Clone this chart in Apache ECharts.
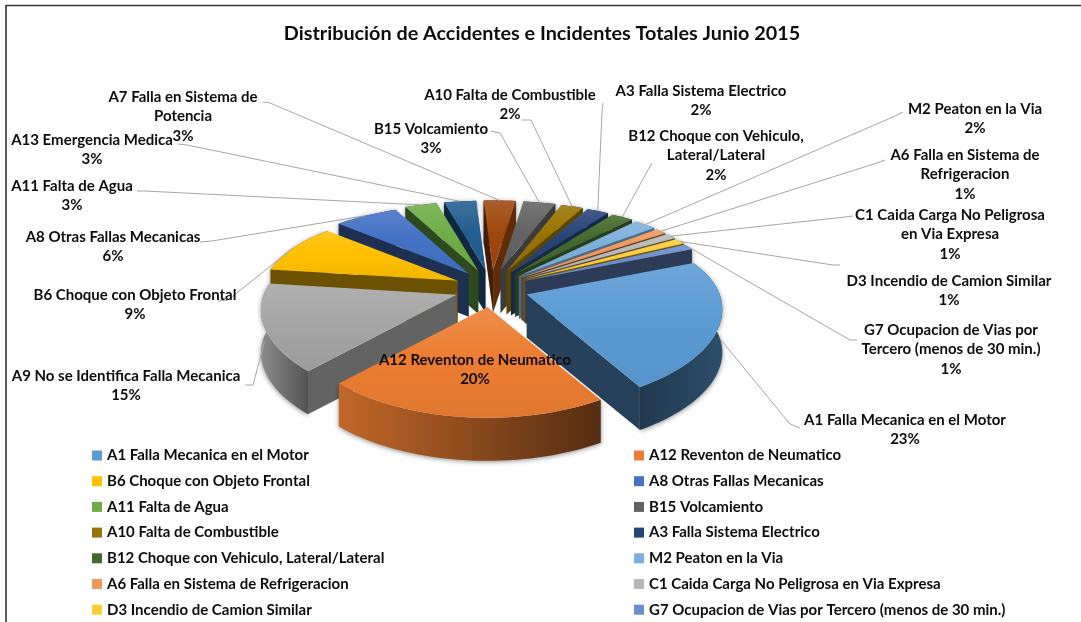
<!DOCTYPE html>
<html><head><meta charset="utf-8">
<style>html,body{margin:0;padding:0;background:#fff}#c{width:1081px;height:622px}</style>
<script src="https://cdn.jsdelivr.net/npm/echarts@6/dist/echarts.min.js"></script>
</head><body><div id="c"></div>
<script>
// ---------- data ----------
const categories = ['A1 Falla Mecanica en el Motor','A12 Reventon de Neumatico','A9 No se Identifica Falla Mecanica','B6 Choque con Objeto Frontal','A8 Otras Fallas Mecanicas','A11 Falta de Agua','A13 Emergencia Medica','A7 Falla en Sistema de Potencia','B15 Volcamiento','A10 Falta de Combustible','A3 Falla Sistema Electrico','B12 Choque con Vehiculo, Lateral/Lateral','M2 Peaton en la Via','A6 Falla en Sistema de Refrigeracion','C1 Caida Carga No Peligrosa en Via Expresa','D3 Incendio de Camion Similar','G7 Ocupacion de Vias por Tercero (menos de 30 min.)'];
const values = [22.6,20.49,15.0,9.2,6.3,3.2,3.2,3.2,3.2,2.2,2.2,2.2,2.2,1.1,1.1,1.1,1.1];
const labelLines = [['A1 Falla Mecanica en el Motor'],['A12 Reventon de Neumatico'],['A9 No se Identifica Falla Mecanica'],['B6 Choque con Objeto Frontal'],['A8 Otras Fallas Mecanicas'],['A11 Falta de Agua'],['A13 Emergencia Medica'],['A7 Falla en Sistema de','Potencia'],['B15 Volcamiento'],['A10 Falta de Combustible'],['A3 Falla Sistema Electrico'],['B12 Choque con Vehiculo,','Lateral/Lateral'],['M2 Peaton en la Via'],['A6 Falla en Sistema de','Refrigeracion'],['C1 Caida Carga No Peligrosa','en Via Expresa'],['D3 Incendio de Camion Similar'],['G7 Ocupacion de Vias por','Tercero (menos de 30 min.)']];
const legendLeft = ['A1 Falla Mecanica en el Motor','B6 Choque con Objeto Frontal','A11 Falta de Agua','A10 Falta de Combustible','B12 Choque con Vehiculo, Lateral/Lateral','A6 Falla en Sistema de Refrigeracion','D3 Incendio de Camion Similar'];
const legendRight = ['A12 Reventon de Neumatico','A8 Otras Fallas Mecanicas','B15 Volcamiento','A3 Falla Sistema Electrico','M2 Peaton en la Via','C1 Caida Carga No Peligrosa en Via Expresa','G7 Ocupacion de Vias por Tercero (menos de 30 min.)'];
const titleText = 'Distribución de Accidentes e Incidentes Totales Junio 2015';
// ---------- style & layout ----------
const colors = ['#5B9BD5','#ED7D31','#A5A5A5','#FFC000','#4472C4','#70AD47','#255E91','#9E480E','#636363','#997300','#264478','#43682B','#7CAFDD','#F1975A','#B7B7B7','#FFCD33','#698ED0'];
const labelPos = [[905,420],[475,360],[126,376],[135,295],[113,237],[72,186],[92,140],[183,97],[431,129],[510,95],[701,91],[716,136],[975,109],[965,155],[950,215],[949,281],[951,330]];
const leaderStart = [[[800,428],[790,424]],null,[[245,385],[253,385]],[[218,301],[228,300]],[[200,242],[212,241]],[[137,191],[145,191]],[[178,144],[187,145]],[[263,102],[270,103]],[[491,131],[500,133]],[[522,120],[531,120]],[[603,103],[602,112]],[[652,163],[648,170]],[[903,112],[895,116]],[[885,160],[877,163]],[[853,216],[845,217]],[[840,265],[833,265]],[[857,340],[850,340]]];
const wallShade = [[.36,.5],[.82,.36],[.85,.5],[.6,.4],[.6,.4],[.6,.4],[.6,.4],[.6,.4],[.6,.4],[.6,.4],[.6,.4],[.6,.4],[.6,.4],[.6,.4],[.6,.4],[.6,.4],[.42,.42]];
const font = 'Lato, "Open Sans", sans-serif';
const G = {cx:491.5, cy:288.5, Ex:37, Ey:18.7, Rx:193, Ry:90, px:.17, py:.23, depth:43, start:-22.5};

const total = values.reduce((a,b)=>a+b,0);
let acc = G.start;
const spans = values.map(v=>{const s=acc; acc+=v/total*360; return [s,acc];});
const rad = d=>d*Math.PI/180;
function project(angle, r, mid, dz){
  const X=Math.cos(rad(angle))*r, Y=Math.sin(rad(angle))*r;
  return [G.cx+G.Ex*Math.cos(rad(mid))+G.Rx*X*(1+G.px*Y),
          G.cy+G.Ey*Math.sin(rad(mid))+G.Ry*Y*(1+G.py*Y)+dz];
}
function shade(hex,f){
  const n=parseInt(hex.slice(1),16), ch=[n>>16,(n>>8)&255,n&255];
  return 'rgb('+ch.map(c=>f<=1?Math.round(c*f):Math.round(c+(255-c)*(f-1))).join(',')+')';
}
function arc(s,e,mid,dz){const pts=[];const n=Math.max(6,Math.ceil((e-s)/2));
  for(let i=0;i<=n;i++)pts.push(project(s+(e-s)*i/n,1,mid,dz));return pts;}
function grad(h,stops){return new echarts.graphic.LinearGradient(0,0,h?1:0,h?0:1,stops);}

function sliceItem(i){
  const [s,e]=spans[i], m=(s+e)/2, c=colors[i];
  const tip=project(0,0,m,0), tipB=project(0,0,m,G.depth);
  const top=arc(s,e,m,0), bot=arc(s,e,m,G.depth);
  const ch=[];
  ch.push({type:'polygon',shape:{points:top.concat(bot.slice().reverse())},
    style:{fill:grad(true,[{offset:0,color:shade(c,wallShade[i][0])},{offset:1,color:shade(c,wallShade[i][1])}]),
           shadowBlur:5,shadowColor:'rgba(0,0,0,.45)',shadowOffsetY:1}});
  [[top[0],bot[0],1],[top[top.length-1],bot[bot.length-1],-1]].forEach(([t,b,sgn])=>{
    const dx=t[0]-tip[0], dy=t[1]-tip[1], len=Math.hypot(dx,dy);
    const nx=dy/len*sgn, ny=-dx/len*sgn;
    if(ny>0){
      ch.push({type:'polygon',shape:{points:[tip,t,b,tipB]},
        style:{fill:shade(c,nx>.3?.6:.42)}});
    }
  });
  ch.push({type:'polygon',shape:{points:[tip].concat(top)},
    style:{fill:grad(false,[{offset:0,color:shade(c,1.12)},{offset:.45,color:c},{offset:1,color:shade(c,.95)}])}});
  return {type:'group',children:ch};
}
function labelItem(){
  const ch=[];
  categories.forEach((n,i)=>{
    const [s,e]=spans[i], m=(s+e)/2;
    if(leaderStart[i]){
      const d=m>0&&m<180?Math.min(G.depth*.6,G.depth*Math.sin(rad(m))):0;
      ch.push({type:'polyline',shape:{points:leaderStart[i].concat([project(m,1,m,d)])},
        style:{stroke:'#a6a6a6',lineWidth:1,fill:null}});
    }
    const lines=labelLines[i].concat([Math.round(values[i])+'%']);
    lines.forEach((t,k)=>ch.push({type:'text',style:{text:t,x:labelPos[i][0],y:labelPos[i][1]+k*19.6,
      align:'center',verticalAlign:'middle',fontFamily:font,fontWeight:'bold',fontSize:15,fill:'#0d0d0d'}}));
  });
  return {type:'group',children:ch};
}
const order=categories.map((_,i)=>i).sort((a,b)=>Math.sin(rad((spans[a][0]+spans[a][1])/2))-Math.sin(rad((spans[b][0]+spans[b][1])/2)));
const series=categories.map((n,i)=>({
  type:'custom',name:n,coordinateSystem:'none',z:2+order.indexOf(i),silent:true,
  itemStyle:{color:colors[i]},data:[[values[i]]],renderItem:()=>sliceItem(i)
}));
series.push({type:'custom',name:'rótulos',coordinateSystem:'none',z:60,silent:true,data:[[0]],renderItem:labelItem});

const legendBase={orient:'vertical',icon:'rect',itemWidth:10,itemHeight:10,itemGap:10.7,selectedMode:false,padding:0,height:400,
  textStyle:{fontFamily:font,fontWeight:'bold',fontSize:15,color:'#0d0d0d'}};
const chart=echarts.init(document.getElementById('c'),null,{renderer:'canvas'});
chart.setOption({
  animation:false,backgroundColor:'#fff',
  title:{text:titleText,left:537,top:19,textAlign:'center',textStyle:{fontFamily:font,fontWeight:'bold',fontSize:19.8,color:'#0d0d0d'}},
  legend:[Object.assign({},legendBase,{data:legendLeft,left:92,top:448}),Object.assign({},legendBase,{data:legendRight,left:634,top:448})],
  graphic:[{type:'rect',z:0,shape:{x:6,y:5.5,width:1100,height:700},style:{fill:null,stroke:'#333',lineWidth:1.6}}],
  series
});
</script></body></html>
